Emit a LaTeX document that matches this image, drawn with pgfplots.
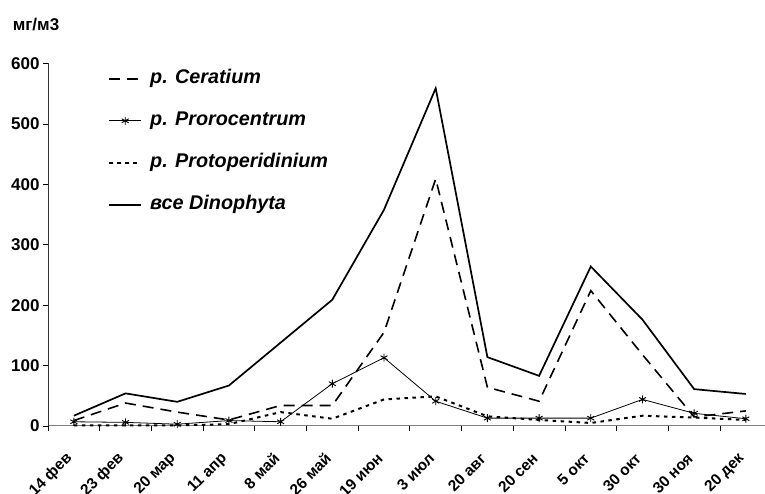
\documentclass[border=0pt]{standalone}
\usepackage{pgfplots}
\pgfplotsset{compat=1.18}
\usepackage{pgfplotstable}
\usepackage{fontspec}
\setmainfont{Liberation Sans}

% Биомасса динофитовых водорослей, мг/м3
\pgfplotstableread{
idx din cer pro prt
0   17   9   7   1
1   54  38   6   1
2   40  23   3   1
3   67  10   9   3
4  138  34   7  23
5  209  34  70  12
6  358 155 113  44
7  559 409  41  49
8  114  64  13  16
9   83  41  13  10
10 264 224  13   5
11 176 118  44  17
12  61  15  21  14
13  53  25  12  10
}\dinodata

\newcommand{\tickfont}{\bfseries\fontsize{17}{19}\selectfont}
\newcommand{\datefont}{\bfseries\fontsize{15.5}{17}\selectfont}
\newcommand{\legfont}{\bfseries\itshape\fontsize{19.8}{22}\selectfont}

\begin{document}
\begin{tikzpicture}
\begin{axis}[
  scale only axis,
  width=717pt, height=362.5pt,
  xmin=-0.5, xmax=13.37,
  ymin=0, ymax=600,
  axis lines*=left,
  x axis line style={draw=gray, line width=1pt},
  y axis line style={draw=black!80, line width=0.8pt},
  tick align=outside,
  major tick length=5pt,
  tick style={black, line width=0.8pt},
  ytick={0,100,...,600},
  yticklabel style={font=\tickfont},
  /pgf/number format/assume math mode=true,
  xtick={-0.5,0.5,...,12.5},
  xticklabels={},
  extra x ticks={0,1,...,13},
  extra x tick labels={14 фев,23 фев,20 мар,11 апр,8 май,26 май,19 июн,3 июл,20 авг,20 сен,5 окт,30 окт,30 ноя,20 дек},
  extra x tick style={major tick length=0pt,
    xticklabel style={font=\datefont, xshift=-4pt, yshift=-30pt, rotate=45, anchor=east, inner sep=0pt}},
  clip=false,
  legend style={at={(0.0837,0.985)}, anchor=north west, draw=none, fill=none,
    font=\legfont, inner sep=0pt, row sep=23pt,
    nodes={inner sep=0pt, text depth=5pt},
    /tikz/every odd column/.append style={column sep=8pt}},
  legend cell align=left,
  legend image code/.code={%
    \draw[mark repeat=2, mark phase=2, #1] plot coordinates {(0pt,0pt) (16pt,0pt) (32pt,0pt)};},
]
\addplot[black, line width=1.6pt, dash pattern=on 11pt off 7pt] table[x=idx, y=cer] {\dinodata};
\addlegendentry{p. Ceratium}
\addplot[black, line width=0.8pt, mark=asterisk, mark size=4pt, mark options={solid, line width=0.9pt}] table[x=idx, y=pro] {\dinodata};
\addlegendentry{p. Prorocentrum}
\addplot[black, line width=2pt, dash pattern=on 3.5pt off 4.5pt] table[x=idx, y=prt] {\dinodata};
\addlegendentry{p. Protoperidinium}
\addplot[black, line width=1.7pt] table[x=idx, y=din] {\dinodata};
\addlegendentry{все Dinophyta}
\end{axis}
\node[font=\tickfont] at (-12pt,401pt) {мг/м3};
\pgfresetboundingbox
\useasboundingbox (-48pt,-68pt) rectangle (717pt,426pt);
\end{tikzpicture}
\end{document}
